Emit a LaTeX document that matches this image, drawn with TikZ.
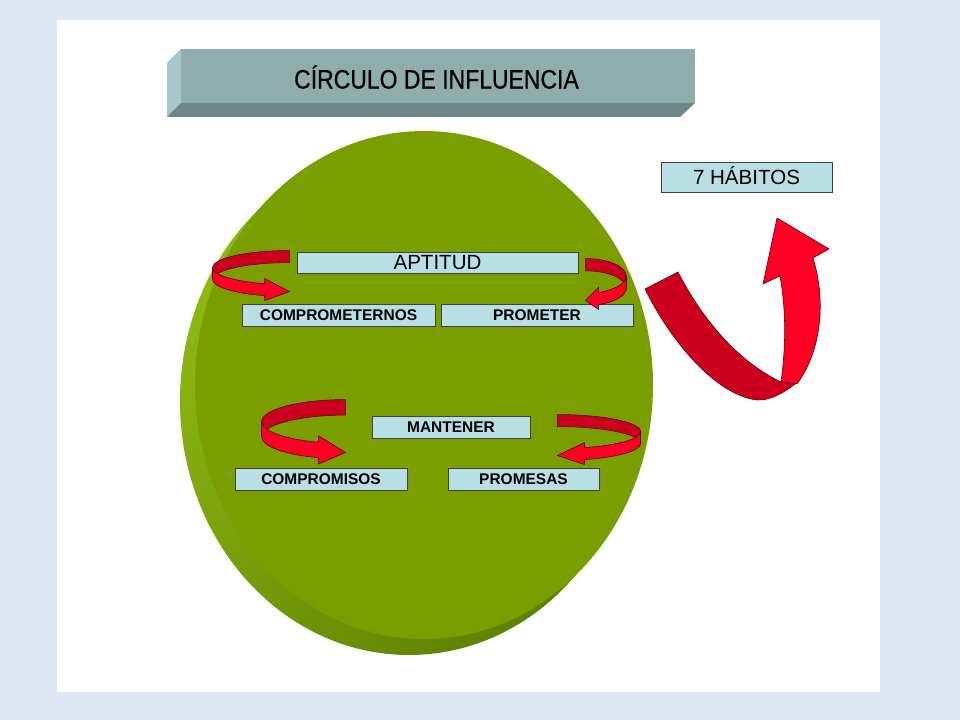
\documentclass[tikz,border=0pt]{standalone}
\usepackage{fontspec}
\setmainfont{Liberation Sans}
\newfontfamily\titulofont[FakeStretch=0.86, FakeBold=0.5]{Liberation Sans}
\usetikzlibrary{calc}

\definecolor{fondo}{RGB}{222,231,243}
\definecolor{verde}{RGB}{122,158,0}
\definecolor{verdeclaro}{RGB}{142,186,20}
\definecolor{verdeoscuro}{RGB}{96,128,0}
\definecolor{cajaazul}{RGB}{184,222,230}
\definecolor{frente}{RGB}{143,173,173}
\definecolor{lado}{RGB}{166,200,202}
\definecolor{base}{RGB}{111,135,135}
\definecolor{rojo}{RGB}{255,0,36}
\definecolor{rojooscuro}{RGB}{204,0,30}
\definecolor{borde}{RGB}{80,0,0}

\newcommand{\pix}{0.025cm}

\tikzset{
  caja/.style={draw=black!75, fill=cajaazul, line width=0.6pt, inner sep=0pt, text depth=0pt},
  chica/.style={caja, minimum height=22*\pix, font=\fontsize{11}{13}\selectfont\bfseries, text height=7.9pt},
  grande/.style={caja, font=\fontsize{14.6}{17}\selectfont, text height=10.5pt},
  cinta/.style={draw=borde, line width=0.4pt},
  pics/vuelta/.style={code={
    \filldraw[cinta, fill=rojooscuro] (0,0) arc[start angle=270, end angle=180, x radius=77, y radius=17]
      -- ++(0,12) arc[start angle=180, end angle=270, x radius=77, y radius=17] -- cycle;
    \filldraw[cinta, fill=rojo] (-77,17) arc[start angle=180, end angle=109, x radius=77, y radius=17]
      -- (-25,28) -- (0,41) -- (-25,50) -- (-25,45.07)
      arc[start angle=109, end angle=180, x radius=77, y radius=17] -- cycle;
  }}
}

\begin{document}
\begin{tikzpicture}[x=\pix, y=-\pix]
\useasboundingbox (0,0) rectangle (960,720);
\fill[fondo] (0,0) rectangle (960,720);
\fill[white] (57,20) rectangle (880,692);

% titulo
\fill[lado] (181,49) -- (167,63) -- (167,117) -- (181,103) -- cycle;
\fill[base] (181,103) -- (695,103) -- (680,117) -- (167,117) -- cycle;
\fill[frente] (181,49) rectangle (695,103);
\node[font=\titulofont\fontsize{19}{22}\selectfont, text height=13.6pt, text depth=0pt] (titulo) at (436.5,79) {CÍRCULO DE INFLUENCIA};

% disco
\shade[top color=verdeclaro, bottom color=verdeoscuro, shading angle=45] (409,401) ellipse[x radius=229, y radius=254];
\fill[verde] (424,385) ellipse[x radius=229, y radius=254];

% cajas
\node[grande, minimum width=171*\pix, minimum height=30*\pix] (habitos) at (746.5,177) {7 HÁBITOS};
\node[grande, minimum width=281*\pix, minimum height=21*\pix] (aptitud) at (437.5,262.5) {APTITUD};
\node[chica, minimum width=193*\pix] (comprometernos) at (338.5,315) {COMPROMETERNOS};
\node[chica, minimum width=192*\pix] (prometer) at (537,315) {PROMETER};
\node[chica, minimum width=158*\pix] (mantener) at (451,427) {MANTENER};
\node[chica, minimum width=172*\pix] (compromisos) at (321,479) {COMPROMISOS};
\node[chica, minimum width=151*\pix] (promesas) at (523.5,479) {PROMESAS};

% flechas
\pic at ($(aptitud.north west)+(-7,-1)$) {vuelta};
\pic[xscale=-0.53, yscale=1.02] at ($(aptitud.north east)+(7,7)$) {vuelta};
\pic[xscale=1.09, yscale=1.29] at ($(mantener.north west)+(-26,-16)$) {vuelta};
\pic[xscale=-1.08] at ($(mantener.north east)+(27,-1)$) {vuelta};

% flecha grande
\filldraw[cinta, fill=rojooscuro] (645,289) .. controls (670,340) and (715,395) .. (757,400)
  .. controls (770,401) and (785,392) .. (795,384) -- (781,382)
  .. controls (735,360) and (700,315) .. (678,272) -- cycle;
\filldraw[cinta, fill=rojo] (781,382) .. controls (786,345) and (786,310) .. (780,276)
  -- (763,284) -- (777,218) -- (829,249) -- (813,258)
  .. controls (826,300) and (822,350) .. (797,384) -- cycle;
\end{tikzpicture}
\end{document}
